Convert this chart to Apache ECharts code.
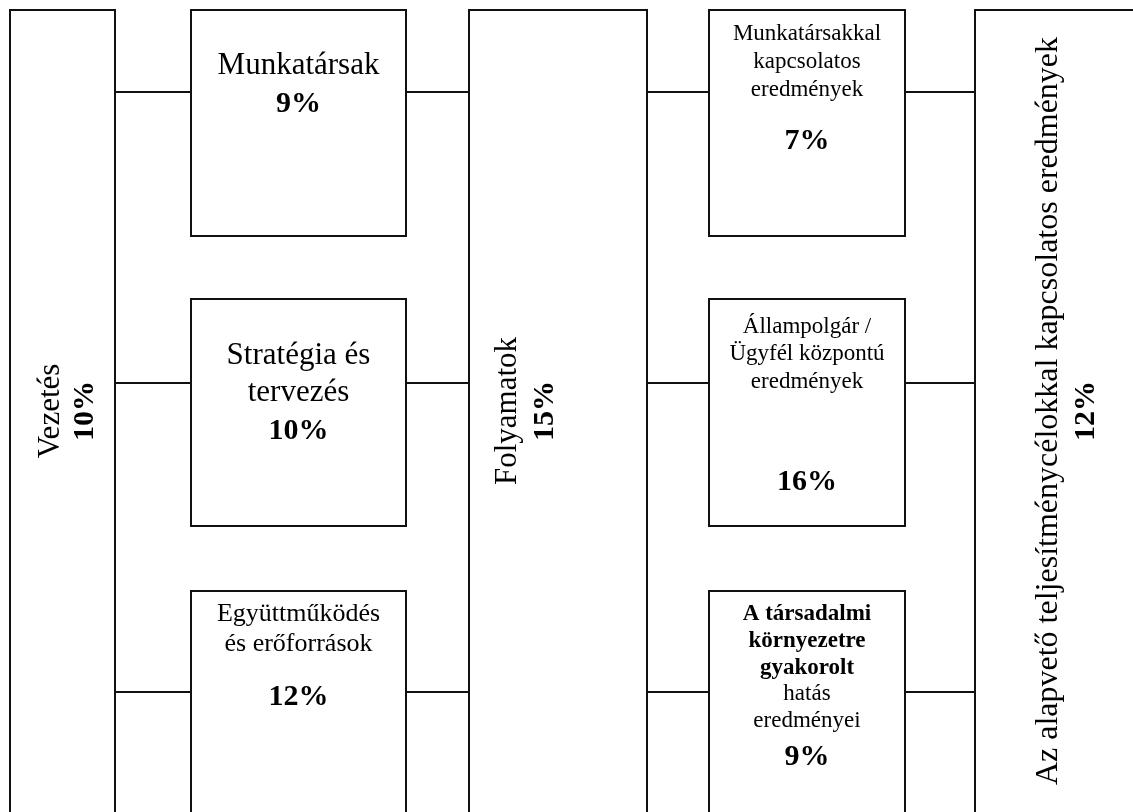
<!DOCTYPE html>
<html>
<head>
<meta charset="utf-8">
<script src="https://cdn.jsdelivr.net/npm/echarts@6/dist/echarts.min.js"></script>
<style>
html,body{margin:0;padding:0;background:#fff;}
#main{width:1133px;height:812px;}
</style>
</head>
<body>
<div id="main"></div>
<script>
// ---- data ----
const criteria = [
  'Vezetés',
  'Munkatársak',
  'Stratégia és tervezés',
  'Együttműködés és erőforrások',
  'Folyamatok',
  'Munkatársakkal kapcsolatos eredmények',
  'Állampolgár / Ügyfél központú eredmények',
  'A társadalmi környezetre gyakorolt hatás eredményei',
  'Az alapvető teljesítménycélokkal kapcsolatos eredmények'
];
const weights = [10, 9, 10, 12, 15, 7, 16, 9, 12];
// text lines for each criterion (line breaks as printed); bold flag per line
const labelLines = [
  [['Vezetés', false]],
  [['Munkatársak', false]],
  [['Stratégia és', false], ['tervezés', false]],
  [['Együttműködés', false], ['és erőforrások', false]],
  [['Folyamatok', false]],
  [['Munkatársakkal', false], ['kapcsolatos', false], ['eredmények', false]],
  [['Állampolgár /', false], ['Ügyfél központú', false], ['eredmények', false]],
  [['A társadalmi', true], ['környezetre', true], ['gyakorolt', true], ['hatás', false], ['eredményei', false]],
  [['Az alapvető teljesítménycélokkal kapcsolatos eredmények', false]]
];

// ---- layout (positions only) ----
const FONT = '"Liberation Serif", "Times New Roman", serif';
const INK = '#111';
const LW = 2;
const layout = [
  {type: 'col', x: 10, x2: 115, textX: 51, pctX: 85, fs: 31},
  {type: 'box', x: 191, x2: 406, y: 10, y2: 236, lineY: [66], pctY: 104, fs: 31},
  {type: 'box', x: 191, x2: 406, y: 299, y2: 526, lineY: [356, 393], pctY: 431, fs: 31},
  {type: 'box', x: 191, x2: 406, y: 591, y2: 830, lineY: [614, 644], pctY: 697, fs: 26},
  {type: 'col', x: 469, x2: 647, textX: 508, pctX: 545, fs: 31},
  {type: 'box', x: 709, x2: 905, y: 10, y2: 236, lineY: [34, 62, 90], pctY: 141, fs: 23},
  {type: 'box', x: 709, x2: 905, y: 299, y2: 526, lineY: [327, 354, 382], pctY: 482, fs: 23},
  {type: 'box', x: 709, x2: 905, y: 591, y2: 830, lineY: [614, 641, 668, 694, 721], pctY: 757, fs: 23},
  {type: 'col', x: 975, x2: 1150, textX: 1049, pctX: 1086, fs: 32}
];
const rowY = [92, 383, 692];
const colTop = 10, colBottom = 830, centerY = 411;
const PCT_FS = 30;

const elements = [];
function rect(x, y, x2, y2) {
  elements.push({type: 'rect', shape: {x: x, y: y, width: x2 - x, height: y2 - y},
    style: {fill: '#fff', stroke: INK, lineWidth: LW}, z: 1});
}
function line(x1, y1, x2, y2) {
  elements.push({type: 'line', shape: {x1: x1, y1: y1, x2: x2, y2: y2},
    style: {stroke: INK, lineWidth: LW}, z: 2});
}
function text(str, x, y, fs, bold, rot) {
  elements.push({type: 'text', x: x, y: y, rotation: rot || 0, z: 3,
    style: {text: str, fill: '#000', font: (bold ? 'bold ' : '') + fs + 'px ' + FONT,
      align: 'center', verticalAlign: 'middle'}});
}

criteria.forEach(function (name, i) {
  const L = layout[i];
  const pct = weights[i] + '%';
  if (L.type === 'col') {
    rect(L.x, colTop, L.x2, colBottom);
    text(labelLines[i].map(function (l) { return l[0]; }).join(' '), L.textX, centerY, L.fs, false, Math.PI / 2);
    text(pct, L.pctX, centerY, PCT_FS, true, Math.PI / 2);
  } else {
    rect(L.x, L.y, L.x2, L.y2);
    const cx = (L.x + L.x2) / 2;
    labelLines[i].forEach(function (l, k) {
      text(l[0], cx, L.lineY[k], L.fs, l[1]);
    });
    text(pct, cx, L.pctY, PCT_FS, true);
  }
});

// connectors between columns and boxes
const gaps = [[115, 191], [406, 469], [647, 709], [905, 975]];
gaps.forEach(function (g) {
  rowY.forEach(function (y) { line(g[0], y, g[1], y); });
});

const chart = echarts.init(document.getElementById('main'), null, {renderer: 'canvas'});
chart.setOption({
  backgroundColor: '#fff',
  animation: false,
  graphic: {elements: elements}
});
</script>
</body>
</html>
